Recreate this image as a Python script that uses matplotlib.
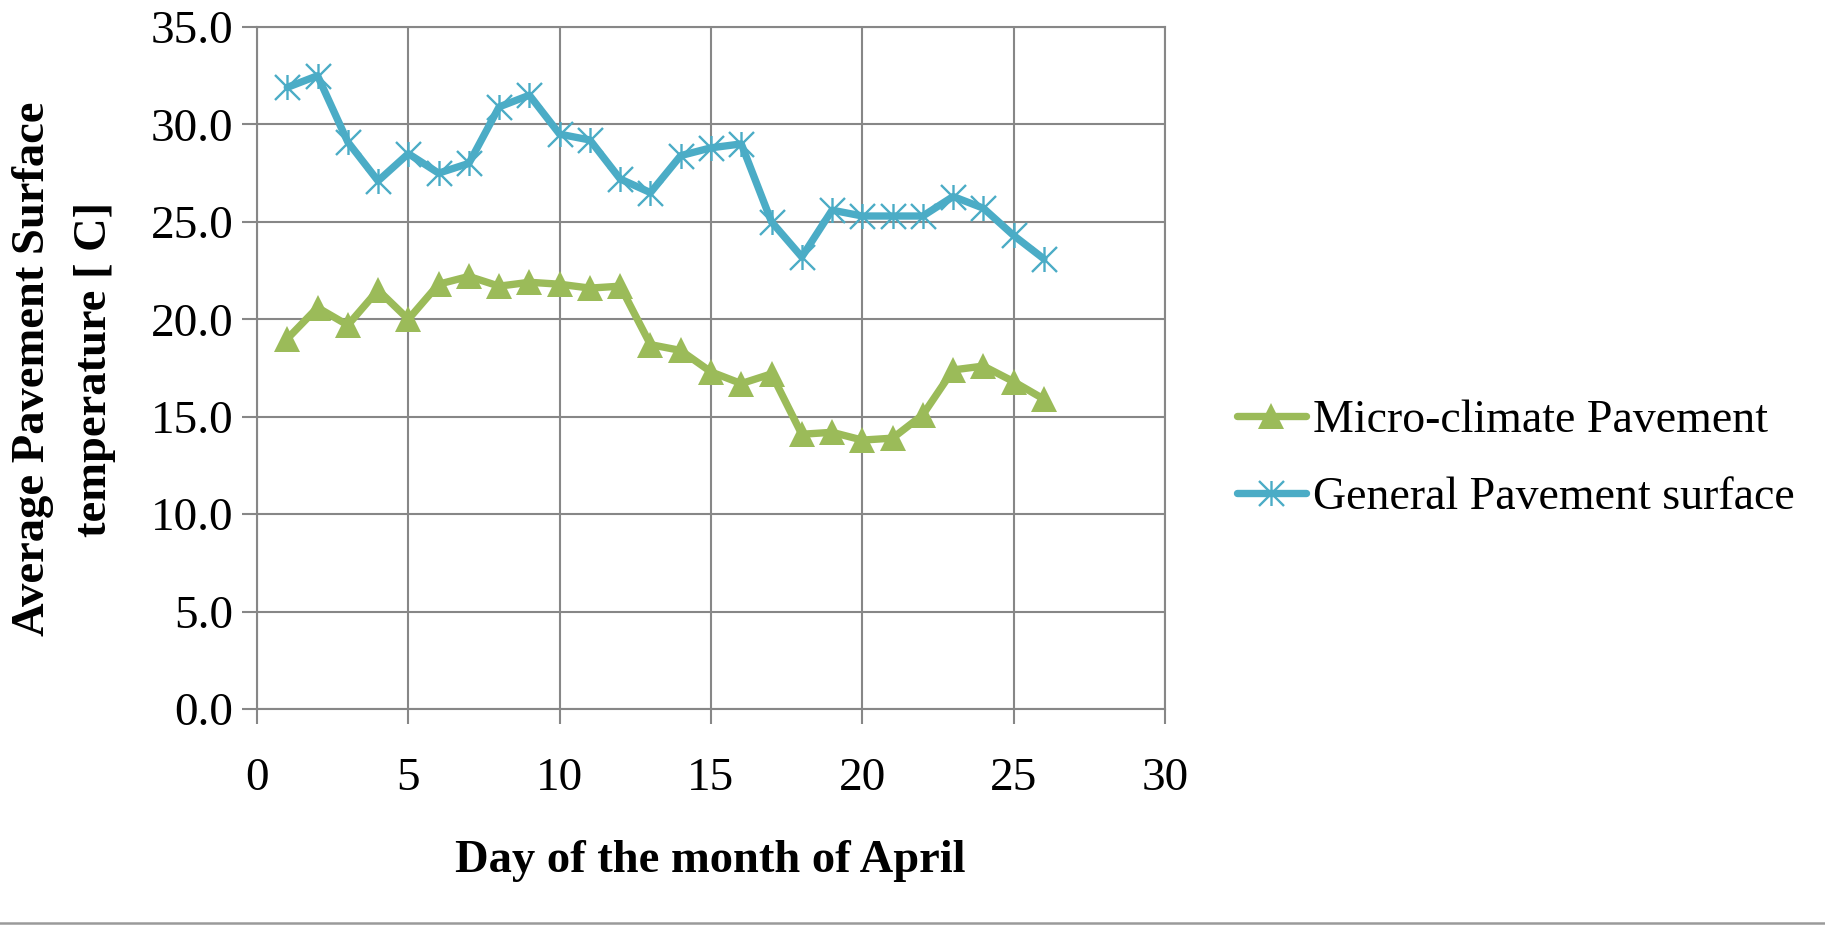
import matplotlib
matplotlib.use("Agg")
import matplotlib.pyplot as plt
from matplotlib.path import Path
from matplotlib.lines import Line2D

plt.rcParams['font.family'] = ['Liberation Serif', 'DejaVu Serif']

days = list(range(1, 27))
micro_climate = [19.0, 20.6, 19.7, 21.5, 20.0, 21.8, 22.2, 21.7, 21.9, 21.8,
                 21.6, 21.7, 18.7, 18.4, 17.3, 16.7, 17.2, 14.1, 14.2, 13.8,
                 13.9, 15.1, 17.4, 17.6, 16.8, 15.9]
general = [31.9, 32.5, 29.1, 27.1, 28.5, 27.5, 28.0, 30.9, 31.5, 29.5,
           29.2, 27.2, 26.5, 28.4, 28.8, 29.0, 25.0, 23.2, 25.6, 25.3,
           25.3, 25.3, 26.3, 25.7, 24.3, 23.1]
series_names = ["Micro-climate Pavement", "General Pavement surface"]
x_ticks = [0, 5, 10, 15, 20, 25, 30]
y_ticks = [0, 5, 10, 15, 20, 25, 30, 35]
x_label = "Day of the month of April"
y_label = "Average Pavement Surface\ntemperature [ C]"

GREEN = "#9BBB59"
BLUE = "#4BACC6"
GRID = "#878787"

W, H = 1825, 925
fig = plt.figure(figsize=(W / 100, H / 100), dpi=100)
ax = fig.add_axes([257 / W, 1 - 709 / H, (1165 - 257) / W, (709 - 27) / H])

star = Path([(0, -1), (0, 1), (-1, -1), (1, 1), (-1, 1), (1, -1)],
            [Path.MOVETO, Path.LINETO, Path.MOVETO, Path.LINETO,
             Path.MOVETO, Path.LINETO])

ax.plot(days, micro_climate, color=GREEN, lw=5.3, marker='^', markersize=19,
        markerfacecolor=GREEN, markeredgewidth=0, label=series_names[0],
        solid_capstyle='round', zorder=3)
ax.plot(days, general, color=BLUE, lw=5.3, marker=star, markersize=18,
        markeredgecolor=BLUE, markeredgewidth=1.7, label=series_names[1],
        solid_capstyle='round', zorder=3)

ax.set_xlim(0, 30)
ax.set_ylim(0, 35)
ax.set_xticks(x_ticks)
ax.set_yticks(y_ticks)
ax.set_xticklabels([str(v) for v in x_ticks])
ax.set_yticklabels([f"{v:.1f}" for v in y_ticks])
ax.grid(True, color=GRID, lw=1.5, zorder=0)
for s in ax.spines.values():
    s.set_color(GRID)
    s.set_linewidth(1.5)
ax.tick_params(axis='both', direction='out', length=11, width=1.5, color=GRID,
               labelsize=34, labelcolor='black')
ax.tick_params(axis='x', pad=24)
ax.tick_params(axis='y', pad=6)

fig.text(710 / W, 1 - 861 / H, x_label, ha='center', va='center',
         fontsize=33.5, fontweight='bold')
fig.text(64 / W, 1 - 369 / H, y_label, ha='center', va='center', rotation=90,
         fontsize=33.5, fontweight='bold', linespacing=1.6, multialignment='center')

fig.legend(loc='center left', bbox_to_anchor=(1237 / W, 1 - 459 / H),
           frameon=False, fontsize=33, handlelength=1.5, handletextpad=0.15,
           borderpad=0, borderaxespad=0, labelspacing=0.75, numpoints=1)

fig.add_artist(Line2D([0, 1], [1 - 922.5 / H, 1 - 922.5 / H],
                      transform=fig.transFigure, color="#9a9a9a", lw=1.8))

fig.savefig("out.png", dpi=100)
